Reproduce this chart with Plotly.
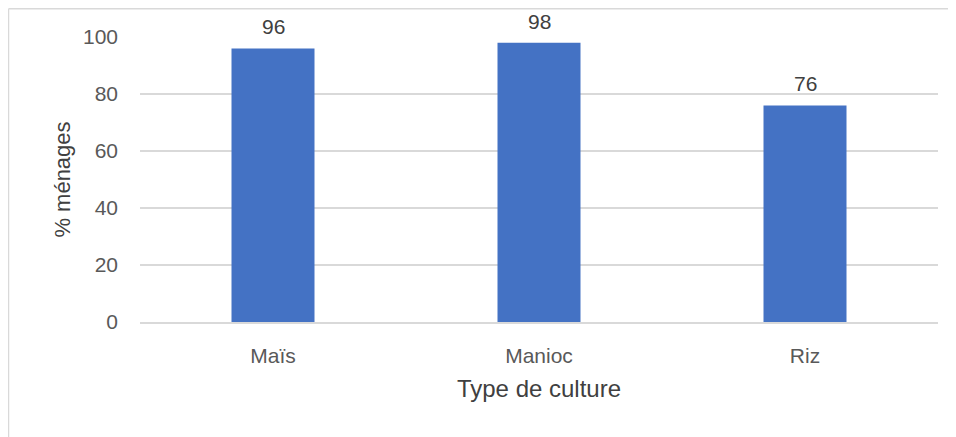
import plotly.graph_objects as go

cultures = ["Maïs", "Manioc", "Riz"]
pct_menages = [96, 98, 76]
y_ticks = [0, 20, 40, 60, 80, 100]

fig = go.Figure()
fig.add_trace(go.Bar(
    x=cultures, y=pct_menages,
    marker=dict(color="#4472c4", line=dict(width=0)),
))

# value labels above the bars
for c, v in zip(cultures, pct_menages):
    fig.add_annotation(x=c, y=v, text=str(v), showarrow=False, yanchor="bottom",
                       yshift=8, font=dict(size=21, color="#404040"))

# page has an 8px body margin, so the figure is sized to fit the window
W, H = 948, 429
l, r, t, b = 132, 18, 29, 115
pw, ph = W - l - r, H - t - b
# frame of the chart: only its top and left edges are in view
frame = dict(color="#d9d9d9", width=1.5)
fig.add_shape(type="line", xref="paper", yref="paper",
              x0=-(l - 0.5) / pw, x1=1 + r / pw, y0=1 + (t - 0.8) / ph, y1=1 + (t - 0.8) / ph,
              line=frame, layer="below")
fig.add_shape(type="line", xref="paper", yref="paper",
              x0=-(l - 0.5) / pw, x1=-(l - 0.5) / pw, y0=-b / ph, y1=1 + (t - 0.8) / ph,
              line=frame, layer="below")

fig.update_layout(
    width=W, height=H,
    margin=dict(l=l, r=r, t=t, b=b),
    paper_bgcolor="white", plot_bgcolor="white",
    font=dict(family="Liberation Sans, Arial, sans-serif", color="#595959", size=21),
    bargap=0.688, showlegend=False,
    xaxis=dict(title=dict(text="Type de culture", font=dict(size=24, color="#404040"), standoff=14),
               showline=True, linecolor="#d9d9d9", linewidth=1.5, ticks="", showgrid=False,
               ticklabelstandoff=14, tickfont=dict(size=21, color="#595959")),
    yaxis=dict(title=dict(text="% ménages", font=dict(size=22, color="#404040"), standoff=6),
               range=[0, 100], tickvals=y_ticks, showgrid=True, gridcolor="#d9d9d9", gridwidth=1.5,
               zeroline=False, ticks="", ticklabelstandoff=21,
               tickfont=dict(size=21, color="#595959")),
)

fig.write_html("out.html")
